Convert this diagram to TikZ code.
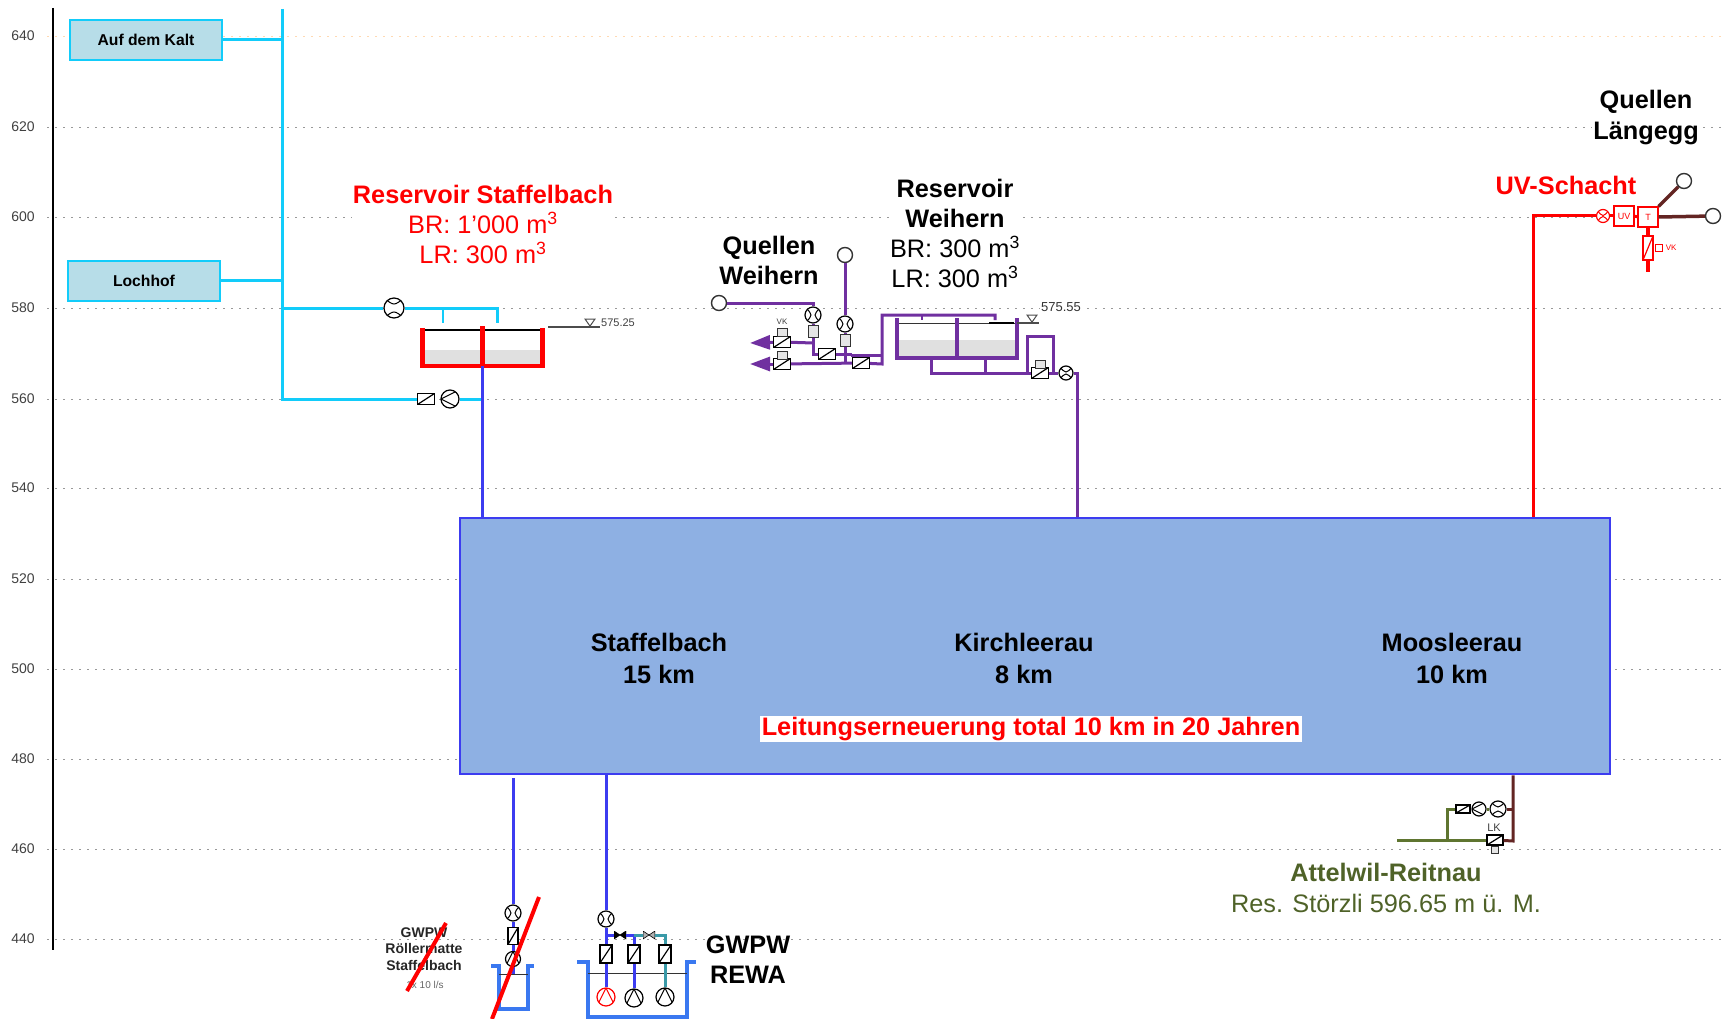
\documentclass[tikz,border=0pt]{standalone}
\usepackage{fontspec}
\setmainfont{Liberation Sans}
\usetikzlibrary{arrows.meta,positioning,shapes}
\definecolor{cyanpipe}{HTML}{12CCFA}
\definecolor{boxblue}{HTML}{B7DDE8}
\definecolor{mainblue}{HTML}{8EB0E3}
\definecolor{linkblue}{HTML}{3C3CF0}
\definecolor{wellblue}{HTML}{3A78F0}
\definecolor{tealpipe}{HTML}{3A9AA8}
\definecolor{purplepipe}{HTML}{7030A0}
\definecolor{brownpipe}{HTML}{632523}
\definecolor{greenpipe}{HTML}{5F7530}
\definecolor{oliv}{HTML}{4F6228}
\tikzset{
  griddot/.style={gray!80,line width=1pt,dash pattern=on 1.5pt off 6.5pt},
  axislabel/.style={font=\fontsize{14}{16}\selectfont,text=black!75},
  pipe/.style={line width=3pt},
  quelle/.style={draw=black!80,circle,fill=white,line width=1.4pt,minimum size=15pt,inner sep=0pt},
  valve/.style={draw,rectangle,line width=1.2pt,inner sep=0pt,minimum width=12pt,minimum height=18pt,
    path picture={\draw[line width=1.2pt] (path picture bounding box.south west) -- (path picture bounding box.north east);}},
  valveh/.style={valve,minimum width=17pt,minimum height=11pt},
  small/.style={draw=black!80,rectangle,fill=black!10,line width=1pt,inner sep=0pt,minimum width=10pt,minimum height=12pt},
  meterh/.style={draw,circle,line width=1.2pt,inner sep=0pt,minimum size=16pt,
    path picture={\draw[line width=1pt] (path picture bounding box.north west) .. controls ([yshift=-8pt]path picture bounding box.north) .. (path picture bounding box.north east);
      \draw[line width=1pt] (path picture bounding box.south west) .. controls ([yshift=8pt]path picture bounding box.south) .. (path picture bounding box.south east);}},
  meterv/.style={draw,circle,line width=1.2pt,inner sep=0pt,minimum size=16pt,
    path picture={\draw[line width=1pt] (path picture bounding box.north west) .. controls ([xshift=8pt]path picture bounding box.west) .. (path picture bounding box.south west);
      \draw[line width=1pt] (path picture bounding box.north east) .. controls ([xshift=-8pt]path picture bounding box.east) .. (path picture bounding box.south east);}},
  pumpl/.style={draw,circle,line width=1.2pt,inner sep=0pt,minimum size=18pt,
    path picture={\draw[line width=1pt] (path picture bounding box.north east) -- (path picture bounding box.west) -- (path picture bounding box.south east);}},
  pumpu/.style={draw,circle,line width=1.2pt,inner sep=0pt,minimum size=18pt,
    path picture={\draw[line width=1pt] (path picture bounding box.south west) -- (path picture bounding box.north) -- (path picture bounding box.south east);}},
  bowtie/.style={rectangle,inner sep=0pt,minimum width=12pt,minimum height=8pt,
    path picture={\filldraw[fill=#1,draw=black,line width=.6pt] (path picture bounding box.north west) -- (path picture bounding box.south east) -- (path picture bounding box.north east) -- (path picture bounding box.south west) -- cycle;}},
  source/.style={draw=cyanpipe,fill=boxblue,line width=1.5pt,minimum width=152pt,minimum height=40pt,inner sep=0pt,font=\fontsize{15.7}{18}\selectfont\bfseries},
  blacktitle/.style={fill=white,inner sep=1pt,align=center,font=\fontsize{25.3}{30}\selectfont},
  tiny/.style={inner sep=0pt,font=\fontsize{11}{13}\selectfont,text=black!75},
  dorf/.style={align=center,font=\fontsize{25.3}{32}\selectfont\bfseries},
  slash/.style={red,line width=4pt}
}
\begin{document}
\begin{tikzpicture}[x=1pt,y=-1pt]
\useasboundingbox (0,0) rectangle (1725,1019);
% hoehenraster
\foreach \lab/\y in {620/127.5,600/217.5,580/308,560/399,540/488,520/579,500/669,480/759,460/849,440/939}{
  \node[axislabel] (l\lab) at (23,\y-0.5) {\lab};
  \coordinate (a\lab) at (47,\y);
  \coordinate (b\lab) at (1725,\y);
  \draw[griddot] (a\lab) -- (b\lab);
}
\node[axislabel] (l640) at (23,36) {640};
\coordinate (a640) at (47,37);
\coordinate (b640) at (1725,37);
\draw[griddot,orange!30] (a640) -- (b640);
\coordinate (axt) at (53,8);
\coordinate (axb) at (53,950);
\draw[line width=1.2pt] (axt) -- (axb);
% hauptblock
\node[draw=linkblue,fill=mainblue,line width=2.5pt,minimum width=1150pt,minimum height=256pt,inner sep=0pt] (netz) at (1035,646) {};
\node[dorf] (sta) at (659,658) {Staffelbach\\15 km};
\node[dorf] (kir) at (1024,658) {Kirchleerau\\8 km};
\node[dorf] (moo) at (1452,658) {Moosleerau\\10 km};
\node[fill=white,text=red,inner sep=1.5pt,font=\fontsize{25.3}{29}\selectfont\bfseries] (total) at (1031,729) {Leitungserneuerung total 10 km in 20 Jahren};
% staffelbach
\node[source] (kalt) at (146,40) {Auf dem Kalt};
\node[source] (loch) at (144,281) {Lochhof};
\coordinate (st) at (282,9);
\coordinate (st1) at (282,40);
\coordinate (st2) at (282,281);
\coordinate (st3) at (282,308);
\coordinate (st4) at (282,399);
\node[meterh,fill=white,minimum size=20pt] (mz1) at (394,308) {};
\coordinate (e1) at (443,308);
\coordinate (e2) at (497,308);
\coordinate (e1b) at (443,323);
\coordinate (e2b) at (497,323);
\node[valveh,fill=white] (ab1) at (426,399) {};
\node[pumpl,fill=white] (pu1) at (450,399) {};
\coordinate (tank1) at (482,366);
\coordinate (tank1u) at (482,399);
\fill[black!12] (424,350) rectangle (541,366);
\draw[line width=1.2pt] (424,330) -- (541,330);
\draw[red,line width=4.5pt] (422.5,328) -- (422.5,366) -- (542.5,366) -- (542.5,328);
\draw[red,line width=5pt] (tank1) -- (482,326);
\draw[cyanpipe,pipe] (st) -- (st4) -- (ab1);
\draw[cyanpipe,pipe] (kalt) -- (st1);
\draw[cyanpipe,pipe] (loch) -- (st2);
\draw[cyanpipe,pipe] (st3) -- (mz1);
\draw[cyanpipe,pipe] (mz1) -- (e2) -- (e2b);
\draw[cyanpipe,line width=2pt] (e1) -- (e1b);
\draw[cyanpipe,pipe] (pu1) -- (tank1u);
\draw[linkblue,pipe] (tank1) -- (tank1 |- netz.north);
\coordinate (lv1a) at (548,327);
\coordinate (lv1b) at (600,327);
\draw[black!70,line width=1.2pt] (lv1a) -- (lv1b);
\node[draw=black!70,isosceles triangle,isosceles triangle apex angle=70,shape border rotate=-90,line width=1pt,inner sep=0pt,minimum size=7pt,anchor=apex] (tr1) at (590,327) {};
\node[tiny,anchor=west] (kote1) at (601,322.5) {575.25};
\node[blacktitle,text=red] (res1) at (483,224) {\textbf{Reservoir Staffelbach}\\BR: 1'000 m\textsuperscript{3}\\LR: 300 m\textsuperscript{3}};
% weihern
\node[blacktitle] (res2) at (955,233) {\textbf{Reservoir}\\\textbf{Weihern}\\BR: 300 m\textsuperscript{3}\\LR: 300 m\textsuperscript{3}};
\node[blacktitle,font=\fontsize{25.3}{30}\selectfont\bfseries] (que1) at (769,260) {Quellen\\Weihern};
\node[quelle] (qw1) at (719,303) {};
\node[quelle] (qw2) at (845,255) {};
\coordinate (k1) at (813,303);
\coordinate (k2) at (813,343);
\coordinate (k3) at (813,354);
\coordinate (k4) at (845,364);
\coordinate (out1) at (750,343);
\coordinate (out2) at (750,364);
\node[meterv,fill=white] (mw1) at (813,315) {};
\node[small] (sw1) at (813,331) {};
\node[meterv,fill=white] (mw2) at (845,324) {};
\node[small] (sw2) at (845,340) {};
\node[valveh,fill=white] (vk1) at (782,342) {};
\node[small,minimum height=8pt] (vk1a) at (782,332) {};
\node[valveh,fill=white] (vk2) at (782,364) {};
\node[small,minimum height=8pt] (vk2a) at (782,355) {};
\node[tiny,font=\fontsize{8}{9}\selectfont] (vklab) at (782,322) {VK};
\node[valveh,fill=white] (ab2) at (827,354) {};
\node[valveh,fill=white] (ab3) at (861,363) {};
\coordinate (c1) at (882,364);
\coordinate (c2) at (882,315);
\coordinate (c3) at (995,315);
\coordinate (c3b) at (995,320);
\coordinate (c4) at (922,315);
\coordinate (c4b) at (922,320);
\coordinate (c5) at (851,355);
\coordinate (c6) at (882,355);
\coordinate (u1) at (931,358);
\coordinate (u2) at (985,358);
\coordinate (u1b) at (931,373);
\coordinate (u2b) at (985,373);
\coordinate (u3) at (1027,373);
\coordinate (u4) at (1027,336);
\coordinate (u5) at (1053,336);
\coordinate (u6) at (1053,373);
\coordinate (ab) at (1077,373);
\node[valveh,fill=white] (ab4) at (1040,373) {};
\node[small,minimum height=8pt] (ab4a) at (1040,364) {};
\node[meterh,fill=white,minimum size=14pt] (mw3) at (1066,373) {};
\fill[black!12] (899,340) rectangle (1015,356);
\draw[black!80,line width=1pt] (897,323) -- (1017,323);
\draw[black,line width=2pt] (989,323) -- (1014,323);
\draw[purplepipe,line width=3.5pt] (897,318) -- (897,358) -- (1017,358) -- (1017,318);
\draw[purplepipe,line width=3.5pt] (957,358) -- (957,318);
\draw[purplepipe,pipe] (qw1) -- (k1) -- (mw1);
\draw[purplepipe,pipe] (mw1) -- (sw1);
\draw[purplepipe,pipe] (sw1) -- (k3) -- (ab2);
\draw[purplepipe,pipe] (ab2) -- (852,354);
\draw[purplepipe,pipe,-{Triangle[length=20pt,width=14pt]}] (vk1) -- (out1);
\draw[purplepipe,pipe,-{Triangle[length=20pt,width=14pt]}] (vk2) -- (out2);
\draw[purplepipe,pipe] (vk1) -- (k2);
\draw[purplepipe,pipe] (vk2) -- (ab3);
\draw[purplepipe,pipe] (qw2) -- (mw2);
\draw[purplepipe,pipe] (mw2) -- (sw2);
\draw[purplepipe,pipe] (sw2) -- (k4);
\draw[purplepipe,pipe] (ab3) -- (c1) -- (c2) -- (c3) -- (c3b);
\draw[purplepipe,line width=2pt] (c4) -- (c4b);
\draw[purplepipe,pipe] (c5) -- (c6);
\draw[purplepipe,pipe] (u1) -- (u1b) -- (ab4);
\draw[purplepipe,pipe] (u2) -- (u2b);
\draw[purplepipe,pipe] (ab4) -- (mw3);
\draw[purplepipe,pipe] (u3) -- (u4) -- (u5) -- (u6);
\draw[purplepipe,pipe] (mw3) -- (ab) -- (ab |- netz.north);
\coordinate (lv2a) at (1017,323);
\coordinate (lv2b) at (1039,323);
\draw[black!70,line width=1.2pt] (lv2a) -- (lv2b);
\node[draw=black!70,isosceles triangle,isosceles triangle apex angle=70,shape border rotate=-90,line width=1pt,inner sep=0pt,minimum size=7pt,anchor=apex] (tr2) at (1032,323) {};
\node[fill=white,inner sep=1pt,font=\fontsize{13}{15}\selectfont,text=black!80] (kote2) at (1061,307) {575.55};
% laengegg
\node[blacktitle,font=\fontsize{25.3}{31}\selectfont\bfseries] (que2) at (1646,118) {Quellen\\Längegg};
\node[fill=white,inner sep=1pt,text=red,font=\fontsize{25.3}{29}\selectfont\bfseries] (uvs) at (1566,185) {UV-Schacht};
\node[quelle] (ql1) at (1684,181) {};
\node[quelle] (ql2) at (1713,216) {};
\node[meterh,color=red,fill=white,minimum size=13pt] (mu) at (1603,216) {};
\node[draw=red,fill=white,line width=1.2pt,minimum size=20pt,inner sep=0pt,text=red,font=\fontsize{9}{10}\selectfont] (uv) at (1624,216) {UV};
\node[draw=red,fill=white,line width=1.2pt,minimum size=20pt,inner sep=0pt,text=red,font=\fontsize{9}{10}\selectfont] (tt) at (1648,217) {T};
\coordinate (r1) at (1533,216);
\coordinate (r2) at (1648,272);
\node[valve,color=red,fill=white,minimum width=10pt,minimum height=24pt] (vu) at (1648,248) {};
\node[draw=red,line width=1pt,fill=white,minimum size=7pt,inner sep=0pt,right=1pt of vu] (su) {};
\node[inner sep=0pt,text=red,font=\fontsize{8}{9}\selectfont,right=3pt of su] (vkr) {VK};
\draw[red,pipe] (netz.north -| r1) -- (r1) -- (mu);
\draw[red,pipe] (mu) -- (uv);
\draw[red,pipe] (uv) -- (tt);
\draw[red,line width=3.5pt] (tt) -- (vu);
\draw[red,line width=3.5pt] (vu) -- (r2);
\draw[brownpipe,line width=3.5pt] (tt.north east) -- (ql1);
\draw[brownpipe,line width=3.5pt] (tt.east) -- (ql2);
% gwpw roellermatte
\coordinate (f1) at (513,778);
\node[meterv,fill=white] (mr) at (513,913) {};
\node[valve,fill=white,minimum width=10pt,minimum height=17pt] (vr) at (513,936) {};
\node[pumpu,fill=white,minimum size=15pt] (pr) at (513,959) {};
\coordinate (fb) at (513,974);
\draw[wellblue,line width=4pt] (491,966) -- (499,966) -- (499,1009) -- (528,1009) -- (528,966) -- (534,966);
\draw[black!80,line width=1pt] (499,974) -- (528,974);
\draw[linkblue,pipe] (f1) -- (mr);
\draw[linkblue,pipe] (mr) -- (vr);
\draw[linkblue,pipe] (vr) -- (pr);
\draw[linkblue,pipe] (pr) -- (fb);
\node[align=center,inner sep=0pt,font=\fontsize{14}{16.5}\selectfont\bfseries,text=black!85] (gw1) at (424,949) {GWPW\\Röllermatte\\Staffelbach};
\node[inner sep=0pt,font=\fontsize{10}{12}\selectfont,text=black!60] (gw1b) at (425,985) {1x 10 l/s};
\coordinate (x1) at (446,923);
\coordinate (x2) at (407,991);
\coordinate (x3) at (539,897);
\coordinate (x4) at (492,1019);
\draw[slash] (x1) -- (x2);
\draw[slash] (x3) -- (x4);
% gwpw rewa
\coordinate (f2) at (606,774);
\coordinate (j1) at (606,935);
\coordinate (j2) at (634,935);
\coordinate (j3) at (665,935);
\node[meterv,fill=white] (mg) at (606,919) {};
\node[valve,fill=white] (vg1) at (606,954) {};
\node[valve,fill=white] (vg2) at (634,954) {};
\node[valve,fill=white] (vg3) at (665,954) {};
\node[pumpu,color=red,fill=white] (pg1) at (606,997) {};
\node[pumpu,fill=white] (pg2) at (634,998) {};
\node[pumpu,fill=white] (pg3) at (665,997) {};
\node[bowtie=black] (bow1) at (620,935) {};
\node[bowtie=black!30] (bow2) at (649,935) {};
\draw[wellblue,line width=4pt] (577,962) -- (588,962) -- (588,1017) -- (687,1017) -- (687,962) -- (696,962);
\draw[black!80,line width=1pt] (588,973) -- (687,973);
\draw[linkblue,pipe] (f2) -- (mg);
\draw[linkblue,pipe] (mg) -- (vg1);
\draw[linkblue,pipe] (vg1) -- (pg1);
\draw[linkblue,pipe] (j1) -- (bow1);
\draw[linkblue,pipe] (bow1) -- (j2) -- (vg2);
\draw[linkblue,pipe] (vg2) -- (pg2);
\draw[tealpipe,pipe] (j2) -- (bow2);
\draw[tealpipe,pipe] (bow2) -- (j3) -- (vg3);
\draw[tealpipe,pipe] (vg3) -- (pg3);
\node[blacktitle,fill=none,font=\fontsize{25.3}{30}\selectfont\bfseries] (rewa) at (748,960) {GWPW\\REWA};
% attelwil
\coordinate (d1) at (1513,809);
\coordinate (d2) at (1513,841);
\coordinate (g1) at (1397,840);
\coordinate (g2) at (1447,840);
\coordinate (g3) at (1447,809);
\node[valveh,fill=white,minimum width=14pt,minimum height=8pt] (va) at (1463,809) {};
\node[pumpl,fill=white,minimum size=14pt] (pa) at (1479,809) {};
\node[meterh,fill=white,minimum size=16pt] (ma) at (1498,809) {};
\node[valveh,fill=white,minimum width=16pt,minimum height=10pt] (vb) at (1495,840) {};
\node[small,minimum width=7pt,minimum height=7pt] (sb) at (1495,850) {};
\node[tiny] (lk) at (1494,828) {LK};
\draw[brownpipe,pipe] (netz.south -| d1) -- (d2) -- (vb);
\draw[brownpipe,pipe] (ma) -- (d1);
\draw[greenpipe,pipe] (g1) -- (vb);
\draw[greenpipe,pipe] (g2) -- (g3) -- (va);
\draw[greenpipe,pipe] (pa) -- (ma);
\node[align=center,inner sep=0pt,text=oliv,font=\fontsize{25.3}{31}\selectfont] (att) at (1386,888) {\textbf{Attelwil-Reitnau}\\Res. Störzli 596.65 m ü. M.};
\end{tikzpicture}
\end{document}
